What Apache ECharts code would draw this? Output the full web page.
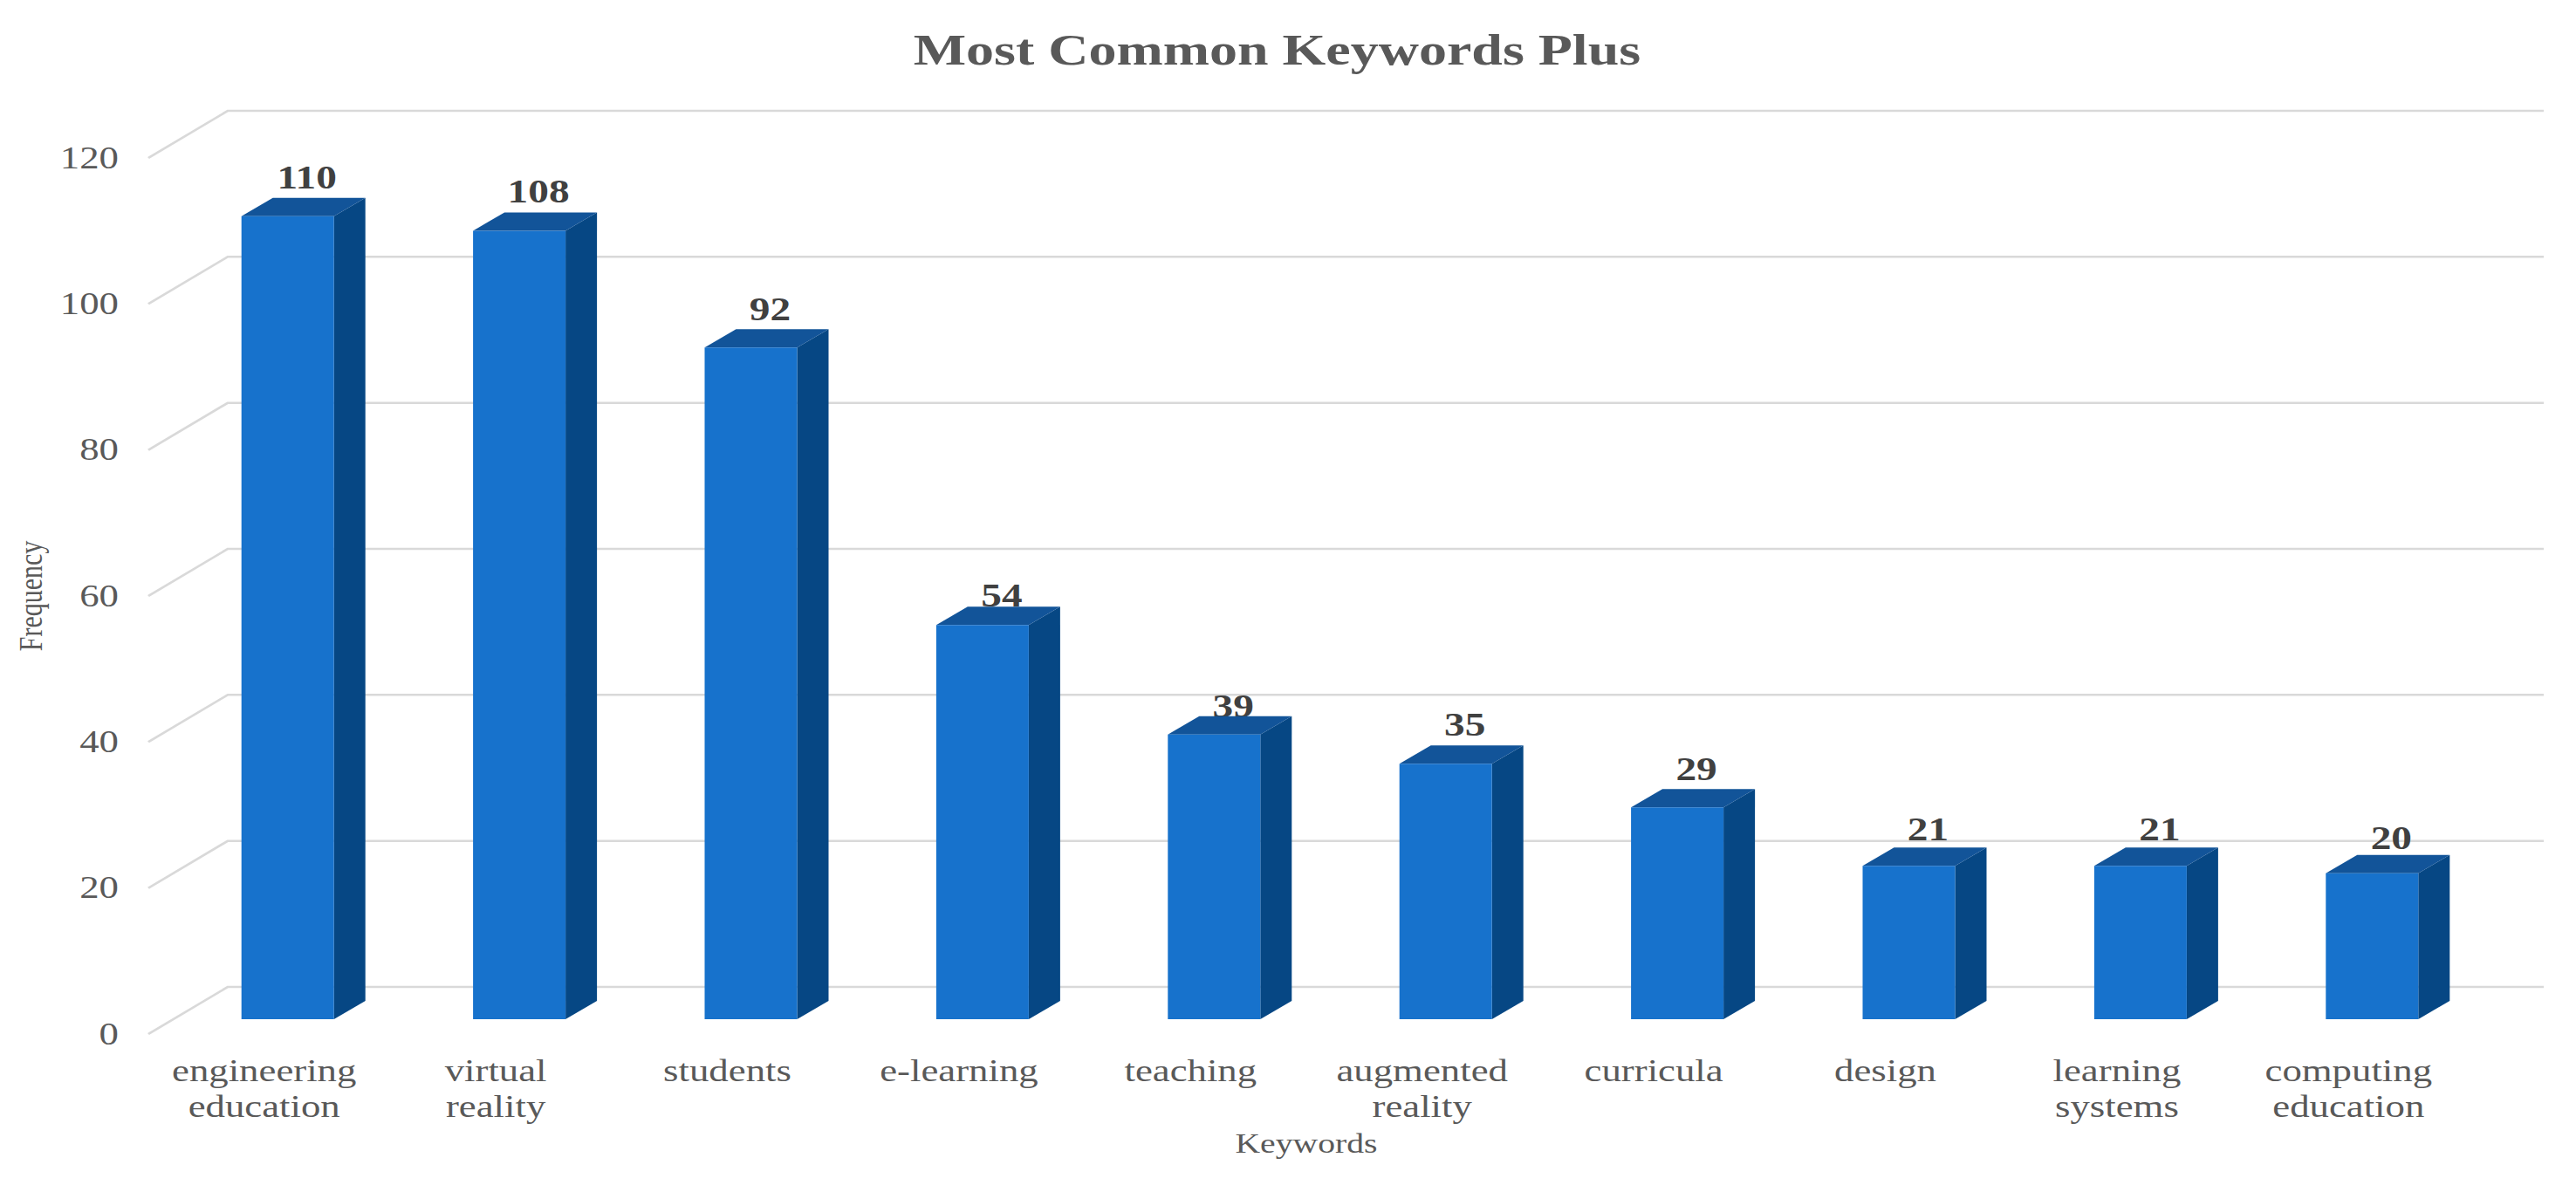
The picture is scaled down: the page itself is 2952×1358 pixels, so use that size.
<!DOCTYPE html>
<html><head><meta charset="utf-8">
<style>html,body{margin:0;padding:0;background:#fff;overflow:hidden}
#c{position:absolute;left:0;top:0;height:1358px;transform-origin:0 0}</style>
<script src="https://cdn.jsdelivr.net/npm/echarts@6/dist/echarts.min.js"></script>
</head><body><div id="c"></div>
<script>
const titleText = 'Most Common Keywords Plus';
const categories = ['engineering\neducation','virtual\nreality','students','e-learning','teaching','augmented\nreality','curricula','design','learning\nsystems','computing\neducation'];
const frequency = [110,108,92,54,39,35,29,21,21,20];
const ticks = [0,20,40,60,80,100,120];

// The reference is stretched horizontally; the chart is drawn narrower and widened by CSS.
const K = 1.28;
const X = v => v / K;
const el = document.getElementById('c');
el.style.width = X(2952) + 'px';
el.style.transform = 'scaleX(' + K + ')';
const chart = echarts.init(el, null, {renderer:'svg'});

const wallDx = X(91), wallDy = 54;
const barShiftX = X(27), barShiftY = 17;
const barW = X(106), depthX = X(36), depthY = 21;
const labelLift = [23,24,23,13,11,24,23,21,21,19];

function renderWalls(params, api){
  const cs = params.coordSys;
  const y = api.coord([0, api.value(0)])[1];
  const x0 = cs.x, x1 = cs.x + cs.width;
  return {type:'polyline', silent:true, shape:{points:[[x0,y],[x0+wallDx,y-wallDy],[x1+wallDx,y-wallDy]]},
    style:{stroke:'#D9D9D9', lineWidth:2.5, fill:null}};
}
function renderBar(params, api){
  const v = api.value(1);
  const c = api.coord([api.value(0), v]);
  const b = api.coord([api.value(0), 0]);
  const l = c[0] + barShiftX - barW/2, r = l + barW;
  const t = c[1] - barShiftY, g = b[1] - barShiftY;
  return {type:'group', children:[
    {type:'text', style:{text:String(v), x:l+barW/2+X(22), y:t-depthY-labelLift[params.dataIndex], align:'center', verticalAlign:'middle',
      fontFamily:'Liberation Serif', fontWeight:'bold', fontSize:37, fill:'#404040'}},
    {type:'polygon', shape:{points:[[r,t],[r+depthX,t-depthY],[r+depthX,g-depthY],[r,g]]}, style:{fill:'#064784'}},
    {type:'polygon', shape:{points:[[l,t],[l+depthX,t-depthY],[r+depthX,t-depthY],[r,t]]}, style:{fill:'#125499'}},
    {type:'rect', shape:{x:l,y:t,width:barW,height:g-t}, style:{fill:'#1772CC'}}
  ]};
}

chart.setOption({
  animation:false,
  backgroundColor:'#fff',
  title:{text:titleText, left:X(1457), top:52, textAlign:'center', textVerticalAlign:'middle',
    textStyle:{fontFamily:'Liberation Serif', fontWeight:'bold', fontSize:50, color:'#595959'}},
  grid:{left:X(170), width:X(2654), top:181, height:1004, containLabel:false, outerBoundsMode:'none'},
  xAxis:{type:'category', data:categories,
    axisLine:{show:false}, axisTick:{show:false}, splitLine:{show:false},
    axisLabel:{interval:0, margin:22, fontFamily:'Liberation Serif', fontSize:35, lineHeight:41, color:'#595959'},
    name:'Keywords', nameLocation:'middle', nameGap:110,
    nameTextStyle:{fontFamily:'Liberation Serif', fontSize:31, color:'#595959'}},
  yAxis:{type:'value', min:0, max:120, interval:20,
    axisLine:{show:false}, axisTick:{show:false}, splitLine:{show:false},
    axisLabel:{margin:X(34), fontFamily:'Liberation Serif', fontSize:35, color:'#595959'},
    name:'Frequency', nameLocation:'middle', nameRotate:90, nameGap:X(116),
    nameTextStyle:{fontFamily:'Liberation Serif', fontSize:30, color:'#595959'}},
  series:[
    {type:'custom', name:'Gridlines', renderItem:renderWalls, data:ticks.map(t=>[t]), encode:{y:0}, silent:true, z:1, clip:false},
    {type:'custom', name:'Frequency', renderItem:renderBar, data:frequency.map((v,i)=>[i,v]), encode:{x:0,y:1}, z:2, clip:false}
  ]
});
</script></body></html>
